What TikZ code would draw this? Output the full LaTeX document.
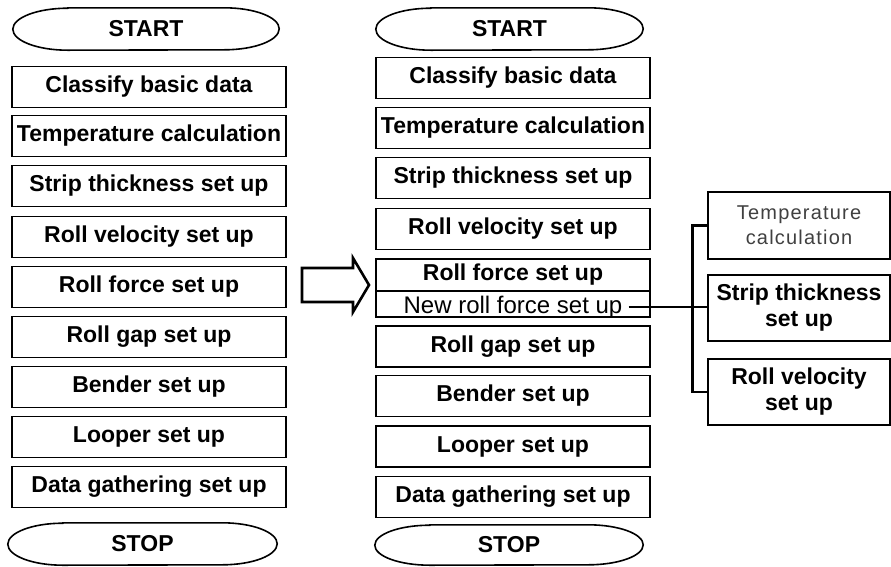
\documentclass[tikz,border=0pt]{standalone}
\usepackage{fontspec}
\setmainfont{Liberation Sans}
\usetikzlibrary{calc}
\tikzset{
  stepbox/.style={draw, line width=1.6pt, fill=white, minimum width=274pt, minimum height=41pt,
    inner sep=0pt, font=\fontsize{23}{26}\selectfont\bfseries},
  terminal/.style={minimum width=266pt, minimum height=42pt,
    inner sep=0pt, font=\fontsize{23}{26}\selectfont\bfseries},
  outline/.style={line width=1.6pt},
  sidebox/.style={draw, line width=1.6pt, minimum width=182pt, minimum height=66pt,
    inner sep=0pt, align=center, font=\fontsize{23}{26}\selectfont\bfseries},
  conn/.style={line width=2.6pt},
  blockarrow/.style={line width=2.6pt, line join=miter},
}
% capsule outline with elliptical ends round a terminal node:
% #1 node name, #2 end radius (pt), #3 half height (pt)
\newcommand\capsuleoutline[3]{%
  \draw[outline] ($(#1.north west)+(#2,0)$) -- ($(#1.north east)+(-#2,0)$)
    arc[start angle=90, end angle=-90, x radius=#2pt, y radius=#3pt]
    -- ($(#1.south west)+(#2,0)$)
    arc[start angle=270, end angle=90, x radius=#2pt, y radius=#3pt] -- cycle;}
\begin{document}
\begin{tikzpicture}[x=1pt,y=-1pt]
\useasboundingbox (0,0) rectangle (891,566);

% original sequence
\node[terminal] (ls) at (146,29) {START};
\node[stepbox] (l1) at (149,87)  {Classify basic data};
\node[stepbox] (l2) at (149,136) {Temperature calculation};
\node[stepbox] (l3) at (149,186) {Strip thickness set up};
\node[stepbox] (l4) at (149,237) {Roll velocity set up};
\node[stepbox] (l5) at (149,287) {Roll force set up};
\node[stepbox] (l6) at (149,337) {Roll gap set up};
\node[stepbox] (l7) at (149,387) {Bender set up};
\node[stepbox] (l8) at (149,437) {Looper set up};
\node[stepbox] (l9) at (149,487) {Data gathering set up};
\node[terminal, minimum width=269pt] (le) at (142.5,544) {STOP};
\capsuleoutline{ls}{55}{21}
\capsuleoutline{le}{55}{21}

% block arrow between the two sequences
\draw[blockarrow] (302,268) -- (353,268) -- (353,258) -- (369,285)
  -- (353,312) -- (353,302) -- (302,302) -- cycle;

% modified sequence
\node[terminal, minimum width=267pt] (rs) at (509.5,29) {START};
\node[stepbox] (r1) at (513,78)    {Classify basic data};
\node[stepbox] (r2) at (513,128)   {Temperature calculation};
\node[stepbox] (r3) at (513,178)   {Strip thickness set up};
\node[stepbox] (r4) at (513,229)   {Roll velocity set up};
\node[stepbox, minimum height=32pt] (rf) at (513,275) {Roll force set up};
\node[stepbox, minimum height=26pt] (nrf) at (513,304) {};
\node[inner sep=0pt, font=\fontsize{24}{26}\selectfont] (nrft) at (513,307) {New roll force set up};
\node[stepbox] (r6) at (513,346.5) {Roll gap set up};
\node[stepbox] (r7) at (513,396)   {Bender set up};
\node[stepbox] (r8) at (513,446.5) {Looper set up};
\node[stepbox] (r9) at (513,497)   {Data gathering set up};
\node[terminal, minimum width=268pt, minimum height=40pt] (re) at (509,545) {STOP};
\capsuleoutline{rs}{55}{21}
\capsuleoutline{re}{55}{20}

% sub-steps of the new roll force set up
\node[sidebox, minimum height=67pt, text=black!75,
  font=\fontsize{20}{25}\selectfont\addfontfeature{LetterSpace=6}] (t1) at (799,225.5) {Temperature\\calculation};
\node[sidebox] (t2) at (799,308) {Strip thickness\\set up};
\node[sidebox] (t3) at (799,392) {Roll velocity\\set up};

\draw[conn] (t1.west) -- ++(-15,0) |- (t3.west);
\draw[conn] ($(nrft.east)+(6,0)$) -- (nrft.east -| t2.west);
\end{tikzpicture}
\end{document}
